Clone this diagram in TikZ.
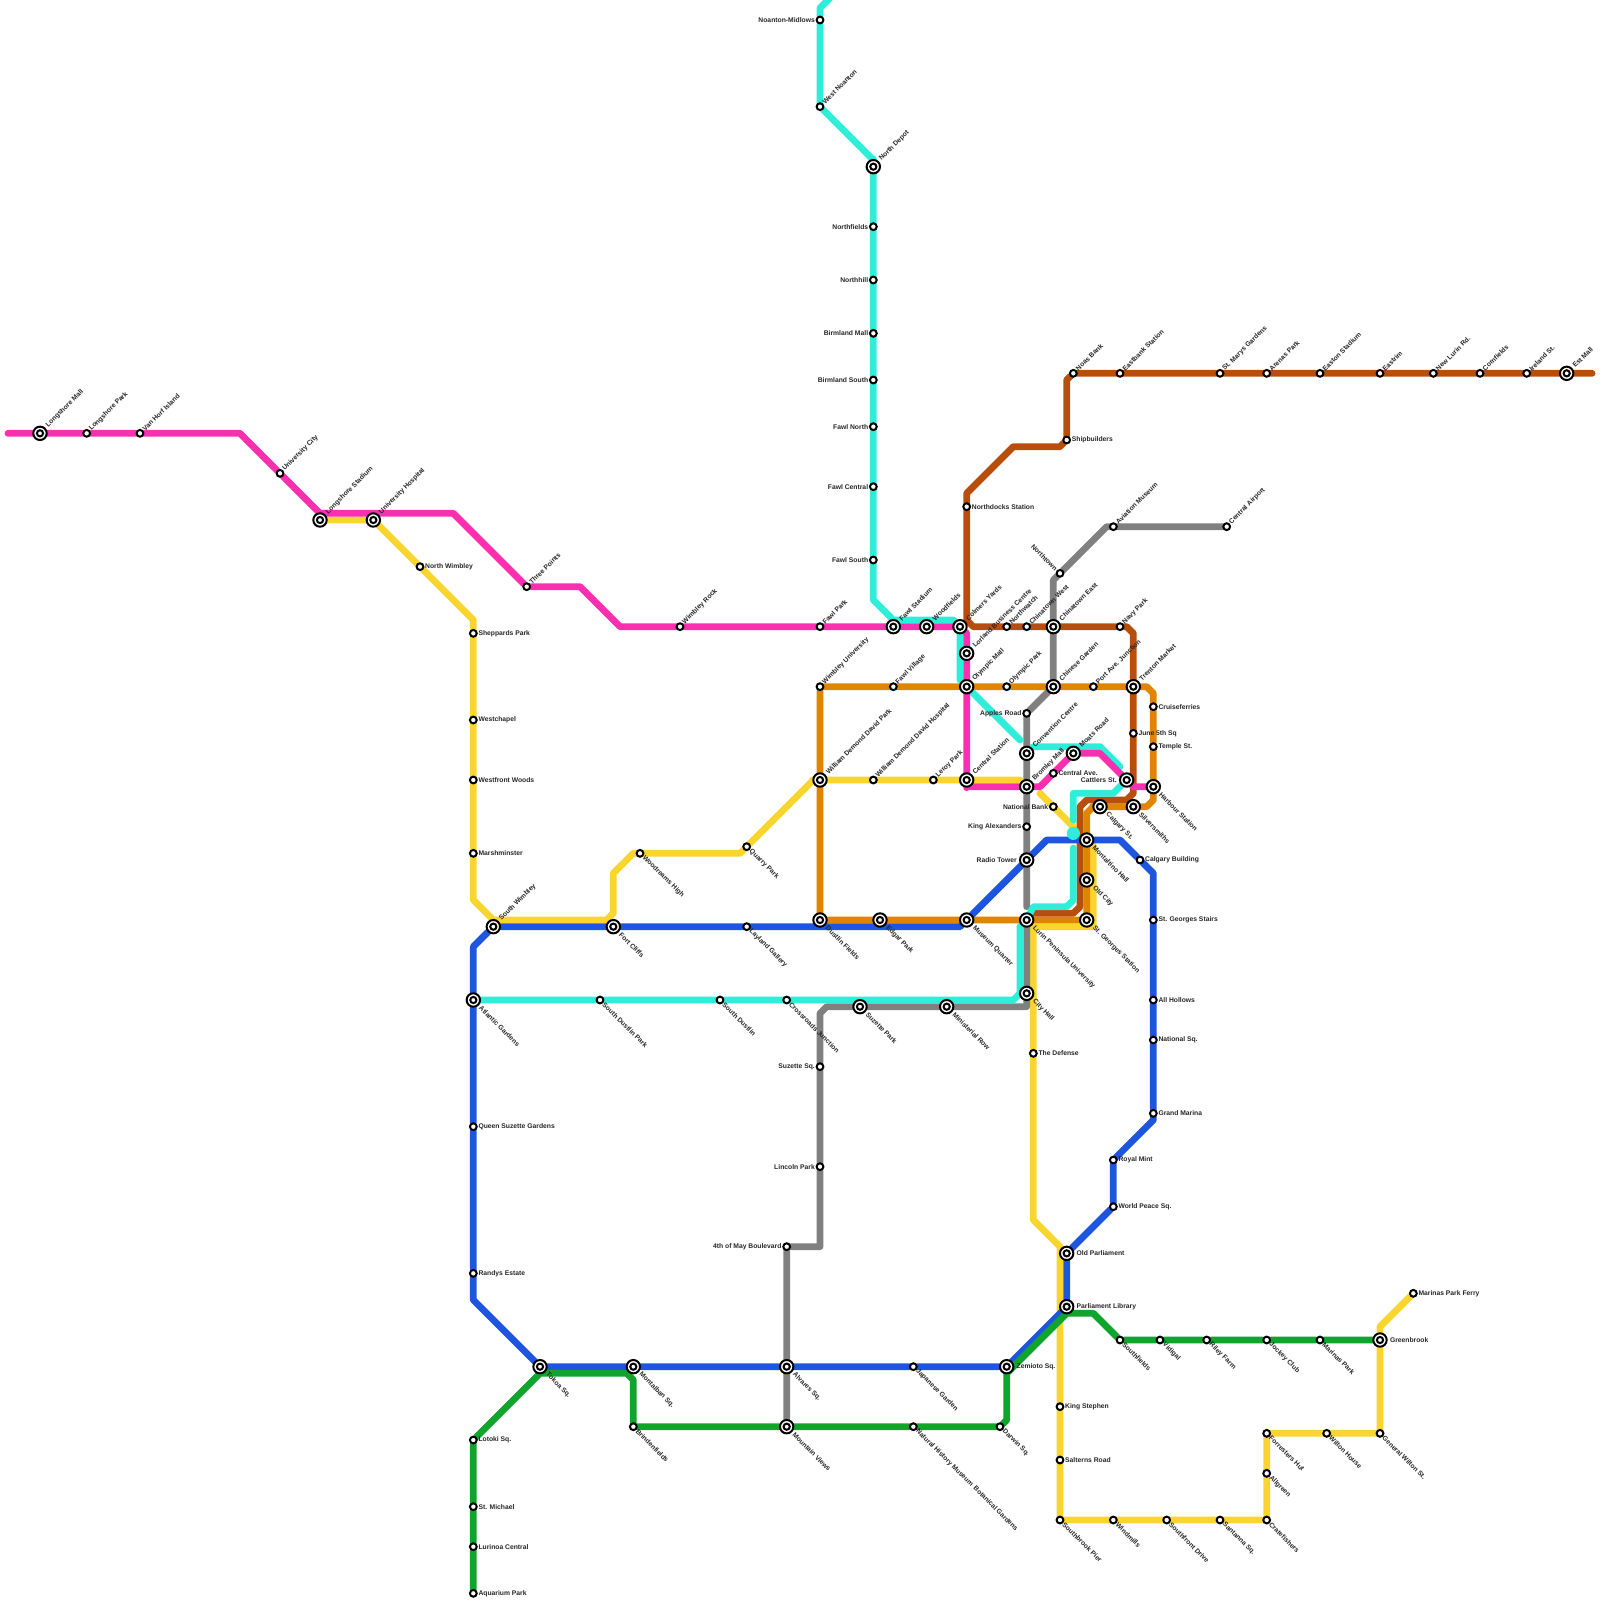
\documentclass[tikz,border=0pt]{standalone}
\usepackage{fontspec}
\setmainfont{Liberation Sans}
\usetikzlibrary{backgrounds}
\definecolor{pinkl}{HTML}{FB2FB0}
\definecolor{cyanl}{HTML}{2EEEDA}
\definecolor{brownl}{HTML}{B84E0C}
\definecolor{orangel}{HTML}{DF8500}
\definecolor{yellowl}{HTML}{FAD52D}
\definecolor{bluel}{HTML}{1E55DE}
\definecolor{greenl}{HTML}{0FA52C}
\definecolor{greyl}{HTML}{808080}
\tikzset{
  route/.style={line width=3.4pt,line cap=round,line join=round},
  stopdot/.style={circle,draw=black,fill=white,line width=1pt,minimum size=3.4pt,inner sep=0pt},
  hubdot/.style={circle,draw=black,fill=white,line width=1pt,minimum size=6.7pt,inner sep=0pt,
    path picture={\draw[line width=1pt] (path picture bounding box.center) circle (1.55pt);}},
  lbl/.style={font=\fontsize{3.38}{4}\selectfont\bfseries,text=black!85,inner ysep=0pt,outer sep=0pt,fill=none,draw=none,line width=0pt},
  lup/.style={append after command={(\tikzlastnode.center) node[lbl,rotate=45,anchor=west,inner xsep=2.6pt] (\tikzlastnode-t) {#1}}},
  ldn/.style={append after command={(\tikzlastnode.center) node[lbl,rotate=-45,anchor=west,inner xsep=2.6pt] (\tikzlastnode-t) {#1}}},
  lrt/.style={append after command={(\tikzlastnode.center) node[lbl,anchor=west,inner xsep=2.6pt] (\tikzlastnode-t) {#1}}},
  llf/.style={append after command={(\tikzlastnode.center) node[lbl,anchor=east,inner xsep=2.6pt] (\tikzlastnode-t) {#1}}},
  lnw/.style={append after command={(\tikzlastnode.center) node[lbl,rotate=-45,anchor=east,inner xsep=2.6pt] (\tikzlastnode-t) {#1}}},
  hup/.style={append after command={(\tikzlastnode.center) node[lbl,rotate=45,anchor=west,inner xsep=5pt] (\tikzlastnode-t) {#1}}},
  hdn/.style={append after command={(\tikzlastnode.center) node[lbl,rotate=-45,anchor=west,inner xsep=5pt] (\tikzlastnode-t) {#1}}},
  hrt/.style={append after command={(\tikzlastnode.center) node[lbl,anchor=west,inner xsep=5pt] (\tikzlastnode-t) {#1}}},
  hlf/.style={append after command={(\tikzlastnode.center) node[lbl,anchor=east,inner xsep=5pt] (\tikzlastnode-t) {#1}}},
}
\begin{document}
\begin{tikzpicture}[x=.5pt,y=-.5pt]
  \useasboundingbox (0,0) rectangle (1600,1600);
  \node[hubdot,hup=Longshore Mall] (longmall) at (40,433.33) {};
  \node[stopdot,lup=Longshore Park] (longpark) at (86.67,433.33) {};
  \node[stopdot,lup=Van Horf Island] (vanhorf) at (140,433.33) {};
  \node[stopdot,lup=University City] (univcity) at (280,473.33) {};
  \node[hubdot,hup=Longshore Stadium] (longstad) at (320,520) {};
  \node[hubdot,hup=University Hospital] (univhosp) at (373.33,520) {};
  \node[stopdot,lup=Three Points] (threepts) at (526.67,586.67) {};
  \node[stopdot,lup=Wimbley Rock] (wimbrock) at (680,626.67) {};
  \node[stopdot,lup=Fawl Park] (fawlpark) at (820,626.67) {};
  \node[hubdot,hup=Fawl Stadium] (fawlstad) at (893.33,626.67) {};
  \node[hubdot,hup=Woodfields] (woodf) at (926.67,626.67) {};
  \node[hubdot,hup=Colmers Yards] (colmers) at (960,626.67) {};
  \node[hubdot,hup=Lorland Business Centre] (lorland) at (966.67,653.33) {};
  \node[hubdot,hup=Olympic Mall] (olymall) at (966.67,686.67) {};
  \node[hubdot,hup=Central Station] (centralst) at (966.67,780) {};
  \node[hubdot,hup=Bromley Mall] (bromley) at (1026.67,786.67) {};
  \node[hubdot,hup=Moats Road] (moats) at (1073.33,753.33) {};
  \node[hubdot,hlf=Cattlers St.] (cattlers) at (1126.67,780) {};
  \node[hubdot,hdn=Harbour Station] (harbour) at (1153.33,786.67) {};

  \node[stopdot,llf=Noanton-Midlows] (noanton) at (820,20) {};
  \node[stopdot,lup=West Noanton] (wnoanton) at (820,106.67) {};
  \node[hubdot,hup=North Depot] (northdepot) at (873.33,166.67) {};
  \node[stopdot,llf=Northfields] (northfields) at (873.33,226.67) {};
  \node[stopdot,llf=Northhill] (northhill) at (873.33,280) {};
  \node[stopdot,llf=Birmland Mall] (birmmall) at (873.33,333.33) {};
  \node[stopdot,llf=Birmland South] (birmsouth) at (873.33,380) {};
  \node[stopdot,llf=Fawl North] (fawlnorth) at (873.33,426.67) {};
  \node[stopdot,llf=Fawl Central] (fawlcentral) at (873.33,486.67) {};
  \node[stopdot,llf=Fawl South] (fawlsouth) at (873.33,560) {};
  \node[hubdot,hup=Convention Centre] (convention) at (1026.67,753.33) {};
  \node[hubdot,hdn=Lurin Peninsula University] (lurin) at (1026.67,920) {};
  \node[hubdot,hdn=City Hall] (cityhall) at (1026.67,993.33) {};
  \node[stopdot,ldn=Crossroads Junction] (crossroads) at (786.67,1000) {};
  \node[stopdot,ldn=South Dustlin] (sdustlin) at (720,1000) {};
  \node[stopdot,ldn=South Dustlin Park] (sdustlinpk) at (600,1000) {};
  \node[hubdot,hdn=Atlantic Gardens] (atlantic) at (473.33,1000) {};

  \node[hubdot,hup=Est Mall] (estmall) at (1566.67,373.33) {};
  \node[stopdot,lup=Ireland St.] (ireland) at (1526.67,373.33) {};
  \node[stopdot,lup=Cornfields] (cornfields) at (1480,373.33) {};
  \node[stopdot,lup=New Lurin Rd.] (newlurin) at (1433.33,373.33) {};
  \node[stopdot,lup=Eastrim] (eastrim) at (1380,373.33) {};
  \node[stopdot,lup=Easton Stadium] (easton) at (1320,373.33) {};
  \node[stopdot,lup=Arenas Park] (arenas) at (1266.67,373.33) {};
  \node[stopdot,lup=St. Marys Gardens] (stmarys) at (1220,373.33) {};
  \node[stopdot,lup=Eastbank Station] (eastbank) at (1120,373.33) {};
  \node[stopdot,lup=Noas Bank] (noas) at (1073.33,373.33) {};
  \node[stopdot,lrt=Shipbuilders] (shipb) at (1066.67,440) {};
  \node[stopdot,lrt=Northdocks Station] (northdocks) at (966.67,506.67) {};
  \node[stopdot,lup=Northwatch] (northwatch) at (1006.67,626.67) {};
  \node[stopdot,lup=Chinatown West] (chinwest) at (1026.67,626.67) {};
  \node[hubdot,hup=Chinatown East] (chineast) at (1053.33,626.67) {};
  \node[stopdot,lup=Navy Park] (navypark) at (1120,626.67) {};
  \node[hubdot,hup=Trenton Market] (trenton) at (1133.33,686.67) {};
  \node[stopdot,lrt=June 5th Sq] (june5) at (1133.33,733.33) {};

  \node[stopdot,lup=Wimbley University] (wimbuni) at (820,686.67) {};
  \node[stopdot,lup=Fawl Village] (fawlvil) at (893.33,686.67) {};
  \node[stopdot,lup=Olympic Park] (olypark) at (1006.67,686.67) {};
  \node[hubdot,hup=Chinese Garden] (chingard) at (1053.33,686.67) {};
  \node[stopdot,lup=Port Ave. Junction] (portave) at (1093.33,686.67) {};
  \node[stopdot,lrt=Cruiseferries] (cruise) at (1153.33,706.67) {};
  \node[stopdot,lrt=Temple St.] (temple) at (1153.33,746.67) {};
  \node[hubdot,hdn=Silversmiths] (silver) at (1133.33,806.67) {};
  \node[hubdot,hdn=Calgary St.] (calgary) at (1100,806.67) {};
  \node[hubdot,hdn=Montaltino Hall] (montalt) at (1086.67,840) {};
  \node[hubdot,hdn=Old City] (oldcity) at (1086.67,880) {};
  \node[hubdot,hdn=St. Georges Station] (stgeorges) at (1086.67,920) {};
  \node[hubdot,hdn=Museum Quarter] (museum) at (966.67,920) {};
  \node[hubdot,hdn=Edgar Park] (edgar) at (880,920) {};
  \node[hubdot,hdn=Dustlin Fields] (dustlin) at (820,920) {};
  \node[hubdot,hup=William Demond David Park] (wdpark) at (820,780) {};

  \node[stopdot,lrt=North Wimbley] (nwimbley) at (420,566.67) {};
  \node[stopdot,lrt=Sheppards Park] (sheppards) at (473.33,633.33) {};
  \node[stopdot,lrt=Westchapel] (westchapel) at (473.33,720) {};
  \node[stopdot,lrt=Westfront Woods] (westfront) at (473.33,780) {};
  \node[stopdot,lrt=Marshminster] (marsh) at (473.33,853.33) {};
  \node[stopdot,ldn=Woodreams High] (woodreams) at (640,853.33) {};
  \node[stopdot,ldn=Quarry Park] (quarry) at (746.67,846.67) {};
  \node[stopdot,lup=William Demond David Hospital] (wdhosp) at (873.33,780) {};
  \node[stopdot,lup=Leroy Park] (leroy) at (933.33,780) {};
  \node[stopdot,lrt=The Defense] (defense) at (1033.33,1053.33) {};
  \node[stopdot,lrt=King Stephen] (kingst) at (1060,1406.67) {};
  \node[stopdot,lrt=Salterns Road] (salterns) at (1060,1460) {};
  \node[stopdot,ldn=Southbrook Pier] (southbrook) at (1060,1520) {};
  \node[stopdot,ldn=Windmills] (windmills) at (1113.33,1520) {};
  \node[stopdot,ldn=Southfront Drive] (sfront) at (1166.67,1520) {};
  \node[stopdot,ldn=Santanna Sq.] (santanna) at (1220,1520) {};
  \node[stopdot,ldn=Cratefishers] (crate) at (1266.67,1520) {};
  \node[stopdot,ldn=Allgreen] (allgreen) at (1266.67,1473.33) {};
  \node[stopdot,ldn=Forresters Hut] (forrest) at (1266.67,1433.33) {};
  \node[stopdot,ldn=Wilton House] (wilton) at (1326.67,1433.33) {};
  \node[stopdot,ldn=General Wilton St.] (genwilton) at (1380,1433.33) {};
  \node[hubdot,hrt=Greenbrook] (greenbrook) at (1380,1340) {};
  \node[stopdot,lrt=Marinas Park Ferry] (marinasf) at (1413.33,1293.33) {};

  \node[hubdot,hup=South Wimbley] (swimbley) at (493.33,926.67) {};
  \node[hubdot,hdn=Fort Cliffs] (fort) at (613.33,926.67) {};
  \node[stopdot,ldn=Layland Gallery] (layland) at (746.67,926.67) {};
  \node[hubdot,hlf=Radio Tower] (radio) at (1026.67,860) {};
  \node[stopdot,lrt=Calgary Building] (calgbldg) at (1140,860) {};
  \node[stopdot,lrt=St. Georges Stairs] (stairs) at (1153.33,920) {};
  \node[stopdot,lrt=All Hollows] (hollows) at (1153.33,1000) {};
  \node[stopdot,lrt=National Sq.] (natsq) at (1153.33,1040) {};
  \node[stopdot,lrt=Grand Marina] (marina) at (1153.33,1113.33) {};
  \node[stopdot,lrt=Royal Mint] (mint) at (1113.33,1160) {};
  \node[stopdot,lrt=World Peace Sq.] (worldpeace) at (1113.33,1206.67) {};
  \node[hubdot,hrt=Old Parliament] (oldparl) at (1066.67,1253.33) {};
  \node[hubdot,hrt=Parliament Library] (parllib) at (1066.67,1306.67) {};
  \node[hubdot,hrt=Zemioto Sq.] (zemioto) at (1006.67,1366.67) {};
  \node[stopdot,ldn=Japanese Garden] (japanese) at (913.33,1366.67) {};
  \node[hubdot,hdn=Alvares Sq.] (alvares) at (786.67,1366.67) {};
  \node[hubdot,hdn=Montalban Sq.] (montalban) at (633.33,1366.67) {};
  \node[hubdot,hdn=Tokoa Sq.] (tokoa) at (540,1366.67) {};
  \node[stopdot,lrt=Randys Estate] (randys) at (473.33,1273.33) {};
  \node[stopdot,lrt=Queen Suzette Gardens] (queen) at (473.33,1126.67) {};

  \node[stopdot,lrt=Aquarium Park] (aquarium) at (473.33,1593.33) {};
  \node[stopdot,lrt=Lurinoa Central] (lurinoa) at (473.33,1546.67) {};
  \node[stopdot,lrt=St. Michael] (michael) at (473.33,1506.67) {};
  \node[stopdot,lrt=Lotoki Sq.] (lotoki) at (473.33,1440) {};
  \node[stopdot,ldn=Brindenfields] (brinden) at (633.33,1426.67) {};
  \node[hubdot,hdn=Mountain Views] (mountain) at (786.67,1426.67) {};
  \node[stopdot,ldn=Natural History Museum\enspace Botanical Gardens] (natural) at (913.33,1426.67) {};
  \node[stopdot,ldn=Darwin Sq.] (darwin) at (1000,1426.67) {};
  \node[stopdot,ldn=Southfields] (southf) at (1120,1340) {};
  \node[stopdot,ldn=Vidigal] (vidigal) at (1160,1340) {};
  \node[stopdot,ldn=Riley Farm] (riley) at (1206.67,1340) {};
  \node[stopdot,ldn=Jockey Club] (jockey) at (1266.67,1340) {};
  \node[stopdot,ldn=Marinas Park] (marinaspk) at (1320,1340) {};

  \node[stopdot,lup=Central Airport] (airport) at (1226.67,526.67) {};
  \node[stopdot,lup=Aviation Museum] (aviation) at (1113.33,526.67) {};
  \node[stopdot,lnw=Northtown] (northtown) at (1060,573.33) {};
  \node[stopdot,llf=Apples Road] (apples) at (1026.67,713.33) {};
  \node[stopdot,lrt=Central Ave.] (centralave) at (1053.33,773.33) {};
  \node[stopdot,llf=National Bank] (natbank) at (1053.33,806.67) {};
  \node[stopdot,llf=King Alexanders] (kingalex) at (1026.67,826.67) {};
  \node[hubdot,hdn=Ministerial Row] (ministerial) at (946.67,1006.67) {};
  \node[hubdot,hdn=Suzette Park] (suzettepk) at (860,1006.67) {};
  \node[stopdot,llf=Suzette Sq.] (suzettesq) at (820,1066.67) {};
  \node[stopdot,llf=Lincoln Park] (lincoln) at (820,1166.67) {};
  \node[stopdot,llf=4th of May Boulevard] (may4) at (786.67,1246.67) {};

  \coordinate (pk0) at (8,433.33);
  \coordinate (pk1) at (240,433.33);
  \coordinate (pk2) at (320,513.33);
  \coordinate (pk3) at (453.33,513.33);
  \coordinate (pk4) at (580,586.67);
  \coordinate (pk5) at (620,626.67);
  \coordinate (pk6) at (966.67,633.33);
  \coordinate (pk7) at (966.67,786.67);
  \coordinate (pk8) at (1040,786.67);
  \coordinate (pk9) at (1100,753.33);
  \coordinate (pk10) at (1133.33,786.67);
  \coordinate (cy0) at (830,-2);
  \coordinate (cy1) at (820,8);
  \coordinate (cy2) at (873.33,160);
  \coordinate (cy3) at (873.33,600);
  \coordinate (cy4) at (893.33,620);
  \coordinate (cy5) at (953.33,620);
  \coordinate (cy7) at (960,680);
  \coordinate (cy8) at (1020,740);
  \coordinate (cy9) at (1033.33,746.67);
  \coordinate (cy10) at (1100,746.67);
  \coordinate (cy11) at (1120,766.67);
  \coordinate (cy12) at (1113.33,793.33);
  \coordinate (cy13) at (1073.33,793.33);
  \coordinate (cy14) at (1073.33,820);
  \coordinate (cy15) at (1073.33,848);
  \coordinate (cy16) at (1073.33,900);
  \coordinate (cy17) at (1066.67,906.67);
  \coordinate (cy18) at (1033.33,906.67);
  \coordinate (cy19) at (1020,926.67);
  \coordinate (cy20) at (1020,993.33);
  \coordinate (cy21) at (1013.33,1000);
  \coordinate (br0) at (1592,373.33);
  \coordinate (br1) at (1066.67,380);
  \coordinate (br2) at (1060,446.67);
  \coordinate (br3) at (1013.33,446.67);
  \coordinate (br4) at (966.67,493.33);
  \coordinate (br5) at (966.67,620);
  \coordinate (br6) at (973.33,626.67);
  \coordinate (br7) at (1126.67,626.67);
  \coordinate (br8) at (1133.33,633.33);
  \coordinate (br9) at (1133.33,793.33);
  \coordinate (br10) at (1126.67,800);
  \coordinate (br11) at (1086.67,800);
  \coordinate (br12) at (1080,806.67);
  \coordinate (br13) at (1080,906.67);
  \coordinate (br14) at (1073.33,913.33);
  \coordinate (br15) at (1034,913.33);
  \coordinate (or1) at (1146.67,686.67);
  \coordinate (or2) at (1153.33,693.33);
  \coordinate (or3) at (1153.33,800);
  \coordinate (or4) at (1146.67,806.67);
  \coordinate (or5) at (1093.33,806.67);
  \coordinate (or6) at (1086.67,813.33);
  \coordinate (ye1) at (473.33,620);
  \coordinate (ye2) at (473.33,900);
  \coordinate (ye3) at (493.33,920);
  \coordinate (ye4) at (606.67,920);
  \coordinate (ye5) at (613.33,913.33);
  \coordinate (ye6) at (613.33,873.33);
  \coordinate (ye7) at (633.33,853.33);
  \coordinate (ye8) at (740,853.33);
  \coordinate (ye9) at (813.33,780);
  \coordinate (ye10) at (1020,780);
  \coordinate (ye11) at (1040,793.33);
  \coordinate (ye12) at (1073.33,826.67);
  \coordinate (ye13) at (1093.33,846);
  \coordinate (ye14) at (1093.33,926.67);
  \coordinate (ye15) at (1033.33,926.67);
  \coordinate (ye16) at (1033.33,1220);
  \coordinate (ye17) at (1060,1246.67);
  \coordinate (ye18) at (1380,1326.67);
  \coordinate (bl1) at (960,926.67);
  \coordinate (bl2) at (1046.67,840);
  \coordinate (bl3) at (1120,840);
  \coordinate (bl4) at (1153.33,873.33);
  \coordinate (bl5) at (1153.33,1120);
  \coordinate (bl6) at (473.33,1300);
  \coordinate (bl7) at (473.33,946.67);
  \coordinate (gr1) at (540,1373.33);
  \coordinate (gr2) at (626.67,1373.33);
  \coordinate (gr3) at (633.33,1380);
  \coordinate (gr4) at (1006.67,1420);
  \coordinate (gr5) at (1006.67,1373.33);
  \coordinate (gr6) at (1066.67,1313.33);
  \coordinate (gr7) at (1093.33,1313.33);
  \coordinate (gy1) at (1106.67,526.67);
  \coordinate (gy2) at (1053.33,580);
  \coordinate (gy3) at (1026.67,906.67);
  \coordinate (gy4) at (1026.67,1006.67);
  \coordinate (gy5) at (826.67,1006.67);
  \coordinate (gy6) at (820,1013.33);
  \coordinate (gy7) at (820,1246.67);

  \begin{scope}[on background layer]
  \draw[route,yellowl] (longstad) -- (univhosp) -- (nwimbley) -- (ye1) -- (sheppards) -- (westchapel) -- (westfront) -- (marsh) -- (ye2) -- (ye3) -- (ye4) -- (ye5) -- (ye6) -- (ye7) -- (woodreams) -- (ye8) -- (quarry) -- (ye9) -- (wdpark) -- (wdhosp) -- (leroy) -- (centralst) -- (ye10);
  \draw[route,yellowl] (ye11) -- (ye12);
  \draw[route,yellowl] (ye13) -- (ye14) -- (ye15) -- (defense) -- (ye16) -- (ye17) -- (kingst) -- (salterns) -- (southbrook) -- (windmills) -- (sfront) -- (santanna) -- (crate) -- (allgreen) -- (forrest) -- (wilton) -- (genwilton) -- (greenbrook) -- (ye18) -- (marinasf);
  \draw[route,orangel] (wimbuni) -- (fawlvil) -- (olymall) -- (olypark) -- (chingard) -- (portave) -- (trenton) -- (or1) -- (or2) -- (cruise) -- (temple) -- (harbour) -- (or3) -- (or4) -- (silver) -- (calgary) -- (or5) -- (or6) -- (montalt) -- (oldcity) -- (stgeorges) -- (lurin) -- (museum) -- (edgar) -- (dustlin) -- (wdpark) -- (wimbuni);
  \draw[route,brownl] (br0) -- (estmall) -- (ireland) -- (cornfields) -- (newlurin) -- (eastrim) -- (easton) -- (arenas) -- (stmarys) -- (eastbank) -- (noas) -- (br1) -- (shipb) -- (br2) -- (br3) -- (br4) -- (northdocks) -- (br5) -- (br6) -- (northwatch) -- (chinwest) -- (chineast) -- (navypark) -- (br7) -- (br8) -- (trenton) -- (june5) -- (br9) -- (br10) -- (br11) -- (br12) -- (br13) -- (br14) -- (br15);
  \draw[route,greyl] (airport) -- (aviation) -- (gy1) -- (northtown) -- (gy2) -- (chineast) -- (chingard) -- (apples) -- (convention) -- (bromley) -- (kingalex) -- (radio) -- (gy3);
  \draw[route,greyl] (lurin) -- (cityhall) -- (gy4) -- (ministerial) -- (suzettepk) -- (gy5) -- (gy6) -- (suzettesq) -- (lincoln) -- (gy7) -- (may4) -- (alvares) -- (mountain);
  \draw[route,bluel] (swimbley) -- (fort) -- (layland) -- (bl1) -- (museum) -- (radio) -- (bl2) -- (montalt) -- (bl3) -- (calgbldg) -- (bl4) -- (stairs) -- (hollows) -- (natsq) -- (marina) -- (bl5) -- (mint) -- (worldpeace) -- (oldparl) -- (parllib) -- (zemioto) -- (japanese) -- (alvares) -- (montalban) -- (tokoa) -- (bl6) -- (randys) -- (queen) -- (atlantic) -- (bl7) -- (swimbley);
  \draw[route,cyanl] (cy0) -- (cy1) -- (noanton) -- (wnoanton) -- (cy2) -- (northdepot) -- (northfields) -- (northhill) -- (birmmall) -- (birmsouth) -- (fawlnorth) -- (fawlcentral) -- (fawlsouth) -- (cy3) -- (cy4) -- (cy5) -- (colmers) -- (cy7) -- (olymall) -- (cy8);
  \draw[route,cyanl] (convention) -- (cy9) -- (cy10) -- (cy11);
  \draw[route,cyanl] (cattlers) -- (cy12) -- (cy13) -- (cy14);
  \draw[route,cyanl] (cy15) -- (cy16) -- (cy17) -- (cy18) -- (lurin) -- (cy19) -- (cy20) -- (cy21) -- (crossroads) -- (sdustlin) -- (sdustlinpk) -- (atlantic);
  \node[circle,fill=cyanl,minimum size=6.6pt,inner sep=0pt] (crossover) at (1073.33,833.33) {};
  \draw[route,pinkl] (pk0) -- (longmall) -- (longpark) -- (vanhorf) -- (pk1) -- (univcity) -- (pk2) -- (pk3) -- (threepts) -- (pk4) -- (pk5) -- (wimbrock) -- (fawlpark) -- (fawlstad) -- (woodf) -- (colmers) -- (pk6) -- (lorland) -- (olymall) -- (centralst) -- (pk7) -- (bromley) -- (pk8) -- (moats) -- (pk9) -- (cattlers) -- (pk10) -- (harbour);
  \draw[route,greenl] (aquarium) -- (lurinoa) -- (michael) -- (lotoki) -- (gr1) -- (gr2) -- (gr3) -- (brinden) -- (mountain) -- (natural) -- (darwin) -- (gr4) -- (gr5) -- (gr6) -- (gr7) -- (southf) -- (vidigal) -- (riley) -- (jockey) -- (marinaspk) -- (greenbrook);
  \end{scope}
\end{tikzpicture}
\end{document}
